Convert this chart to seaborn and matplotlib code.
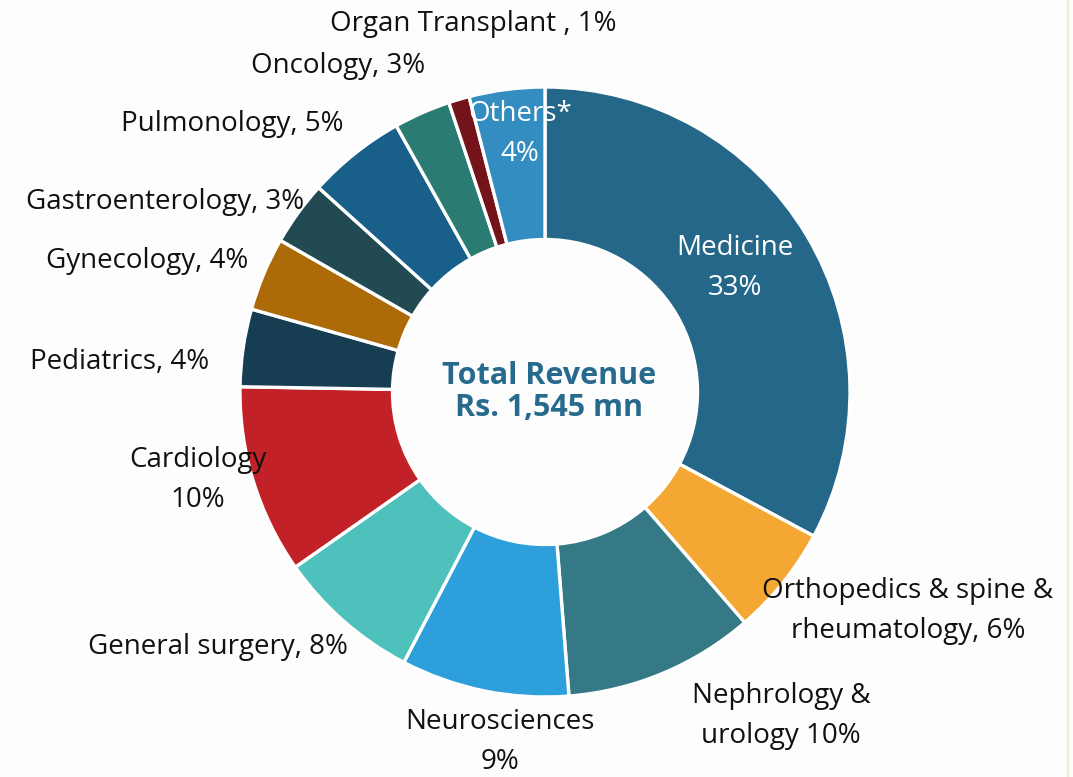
import matplotlib.pyplot as plt
import seaborn as sns

# revenue share by specialty (%), clockwise from 12 o'clock
specialties = ["Medicine", "Orthopedics & spine & rheumatology", "Nephrology & urology",
               "Neurosciences", "General surgery", "Cardiology", "Pediatrics",
               "Gynecology", "Gastroenterology", "Pulmonology", "Oncology",
               "Organ Transplant", "Others*"]
share = [32.8, 5.8, 10.1, 8.9, 7.6, 10.0, 4.1, 3.9, 3.4, 5.2, 3.0, 1.1, 4.0]
labels = ["Medicine\n33%", "Orthopedics & spine &\nrheumatology, 6%", "Nephrology &\nurology 10%",
          "Neurosciences\n9%", "General surgery, 8%", "Cardiology\n10%", "Pediatrics, 4%",
          "Gynecology, 4%", "Gastroenterology, 3%", "Pulmonology, 5%", "Oncology, 3%",
          "Organ Transplant , 1%", "Others*\n4%"]
colors = ["#256789", "#f4a833", "#347985", "#2da0db", "#4fc1bd", "#c22127", "#173d53",
          "#ac6b08", "#214a53", "#186089", "#2a7b71", "#74141a", "#338dc0"]

sns.set_theme(style="white")
plt.rcParams["font.family"] = ["Open Sans", "DejaVu Sans"]

W, H = 1073, 777
fig = plt.figure(figsize=(W / 100, H / 100), dpi=100, facecolor="#fdfdfd")
ax = fig.add_axes([0, 0, 1, 1])
ax.set_facecolor("#fdfdfd")

cx, cy, R = 545, H - 392, 305
ax.pie(share, colors=colors, startangle=90, counterclock=False, center=(cx, cy), radius=R,
       wedgeprops=dict(width=R * 0.5, edgecolor="white", linewidth=2.4))

# label positions in pixel coords (x, y from top)
label_pos = [(735, 268), (908, 611), (781, 716), (500, 742), (218, 647), (198, 480),
             (120, 362), (147, 261), (165, 202), (232, 124), (338, 66), (473, 24), (520, 134)]
white_labels = {"Medicine", "Others*"}
for name, lab, (x, y) in zip(specialties, labels, label_pos):
    ax.text(x, H - y, lab, ha="center", va="center", fontsize=20,
            color="white" if name in white_labels else "#111111", linespacing=1.6)

ax.text(cx + 4, cy, "Total Revenue\nRs. 1,545 mn", ha="center", va="center",
        fontsize=22, fontweight="bold", color="#276a8e", linespacing=1.1)

ax.axvline(1068, color="#ecebdc", linewidth=1.5)
ax.set_xlim(0, W)
ax.set_ylim(0, H)
ax.set_aspect("equal")
ax.axis("off")

fig.savefig("out.png", dpi=100, facecolor=fig.get_facecolor())
